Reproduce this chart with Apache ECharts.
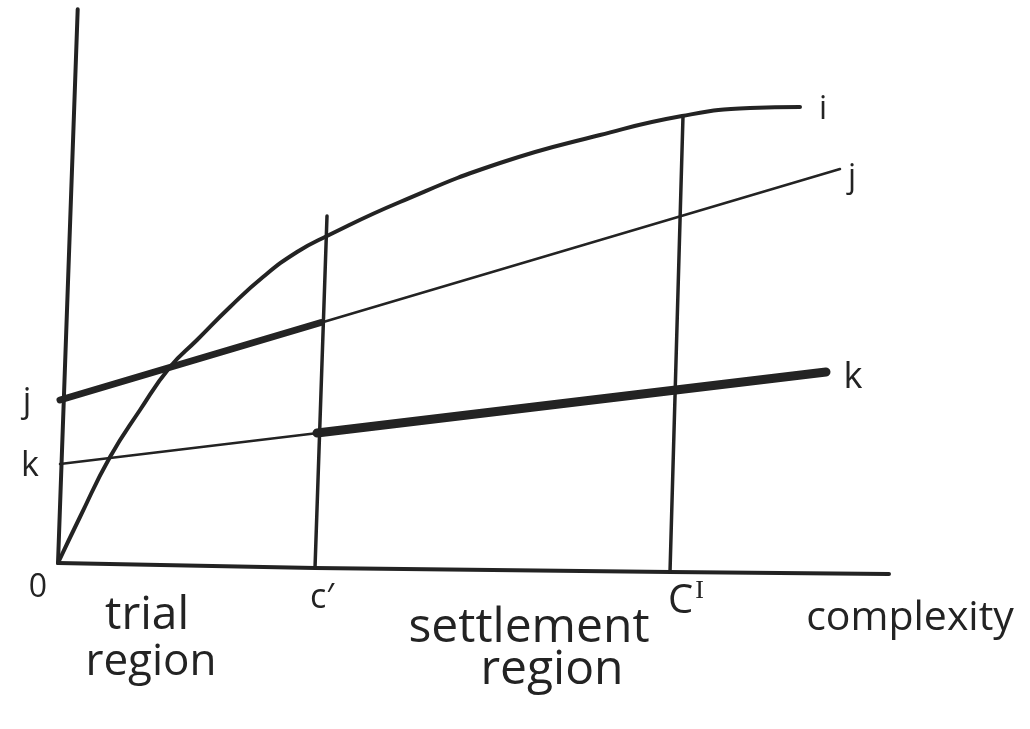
<!DOCTYPE html>
<html>
<head>
<meta charset="utf-8">
<style>html,body{margin:0;padding:0;background:#fff;}#c{width:1030px;height:729px;}</style>
<script src="https://cdn.jsdelivr.net/npm/echarts@6/dist/echarts.min.js"></script>
</head>
<body>
<div id="c"></div>
<script>
// Hand-drawn sketch: x = complexity, y = value (units in sketch space)
var axisY = [[0, 2], [19.7, 555.7]];
var axisX = [[0, 2], [257, -3], [612, -7], [831, -9]];
var curveI = [[0, 2], [22, 48], [52, 108], [82, 155], [112, 198], [139, 225], [172, 258], [205, 288], [239, 313], [269, 329], [342, 363], [442, 402], [542, 430], [624, 449], [692, 457], [742, 458]];
var lineJ = [[2, 165], [782, 396]];
var lineJThick = [[2, 165], [263, 242.5]];
var lineK = [[2, 101], [768, 193]];
var lineKThick = [[259, 132], [768, 193]];
var vertC1 = [[257, -3], [269, 349]];
var vertC2 = [[612, -7], [625, 449]];

var ink = '#232323';
function ln(data, w, smooth) {
  return {type: 'line', data: data, symbol: 'none', smooth: smooth || false,
    lineStyle: {color: ink, width: w, cap: 'round', join: 'round'}, silent: true, animation: false};
}
var font = 'Open Sans';
function txt(s, x, y, size) {
  return {type: 'text', x: x, y: y, silent: true,
    style: {text: s, fill: ink, font: size + 'px "' + font + '"', textAlign: 'center', textVerticalAlign: 'middle'}};
}

var chart = echarts.init(document.getElementById('c'));
chart.setOption({
  backgroundColor: '#ffffff',
  animation: false,
  grid: {left: 58, right: 140, top: 8, bottom: 144},
  xAxis: {type: 'value', min: 0, max: 832, show: false},
  yAxis: {type: 'value', min: -20, max: 557, show: false},
  series: [
    ln(axisY, 4),
    ln(axisX, 4),
    ln(vertC1, 3.5),
    ln(vertC2, 3.5),
    ln(lineJ, 2.5),
    ln(lineJThick, 7),
    ln(lineK, 2.5),
    ln(lineKThick, 9),
    ln(curveI, 4, 0.5)
  ],
  graphic: [
    txt('0', 38, 588, 32),
    txt('j', 27, 402, 34),
    txt('k', 30, 466, 34),
    txt('i', 823, 110, 32),
    txt('j', 852, 178, 32),
    txt('k', 853, 378, 36),
    txt('c\u2032', 322, 598, 34),
    {type: 'text', x: 686, y: 602, silent: true,
      style: {text: '{a|C}{b|I}', textAlign: 'center', textVerticalAlign: 'middle',
        rich: {a: {fill: ink, font: '40px "' + font + '"'},
               b: {fill: ink, font: '26px "Liberation Serif"', verticalAlign: 'top', padding: [0, 0, 22, 2]}}}},
    txt('complexity', 910, 618, 41),
    txt('trial', 147, 616, 46),
    txt('region', 151, 662, 44),
    txt('settlement', 529, 628, 48),
    txt('region', 552, 670, 48)
  ]
});
</script>
</body>
</html>
